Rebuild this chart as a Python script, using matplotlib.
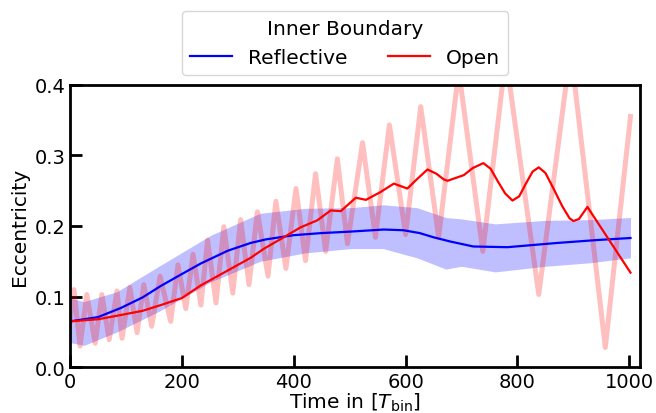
import matplotlib
matplotlib.use('Agg')
import matplotlib.pyplot as plt
import numpy as np

# smooth (running mean) curves
t_refl = [0, 50, 91, 130, 162, 200, 234, 282, 323, 350, 400, 450, 500, 561, 596, 625, 650, 680, 721, 782, 871, 940, 1002]
e_refl = [0.065, 0.071, 0.084, 0.099, 0.115, 0.132, 0.147, 0.165, 0.176, 0.181, 0.187, 0.190, 0.192, 0.195, 0.194, 0.190, 0.184, 0.178, 0.171, 0.170, 0.176, 0.180, 0.183]

t_open = [0, 50, 91, 130, 162, 200, 234, 282, 323, 347, 382, 412, 442, 466, 484, 511, 529, 555, 579, 603, 620, 639, 655, 668, 675,
          704, 720, 739, 752, 765, 778, 791, 803, 815, 827, 838, 850, 865, 880, 893, 900, 910, 925, 1002]
e_open = [0.065, 0.068, 0.074, 0.080, 0.088, 0.098, 0.116, 0.137, 0.155, 0.168, 0.184, 0.198, 0.208, 0.222, 0.221, 0.240, 0.237, 0.248, 0.260, 0.253, 0.266, 0.280, 0.274, 0.266, 0.264,
          0.272, 0.282, 0.289, 0.281, 0.263, 0.246, 0.236, 0.242, 0.260, 0.277, 0.283, 0.275, 0.252, 0.228, 0.211, 0.207, 0.210, 0.227, 0.134]

# raw eccentricity, open boundary (turning points)
t_open_raw = [0, 7, 18, 30, 45, 57, 70, 84, 93, 107, 120, 132, 146, 161, 180, 193, 207, 220, 234, 246, 261,
              275, 291, 305, 320, 335, 354, 368, 386, 404, 421, 439, 457, 478, 496, 523, 546, 571, 600,
              627, 659, 695, 738, 779, 838, 895, 957, 1002]
e_open_raw = [0.065, 0.110, 0.030, 0.103, 0.034, 0.103, 0.039, 0.108, 0.041, 0.113, 0.049, 0.117, 0.058, 0.129, 0.065, 0.145, 0.083, 0.160, 0.088, 0.180, 0.091,
              0.199, 0.105, 0.209, 0.117, 0.220, 0.129, 0.235, 0.140, 0.253, 0.151, 0.274, 0.164, 0.295, 0.175, 0.318, 0.184, 0.343, 0.188,
              0.369, 0.184, 0.420, 0.164, 0.440, 0.103, 0.450, 0.028, 0.355]

# raw eccentricity, reflective boundary (spread of the fast oscillation)
t_band = [0, 25, 84, 161, 252, 340, 421, 502, 560, 620, 672, 700, 760, 850, 930, 1002]
e_band_hi = [0.098, 0.093, 0.107, 0.144, 0.187, 0.218, 0.225, 0.226, 0.230, 0.226, 0.212, 0.210, 0.203, 0.208, 0.209, 0.212]
e_band_lo = [0.035, 0.031, 0.050, 0.080, 0.121, 0.150, 0.162, 0.168, 0.168, 0.155, 0.139, 0.143, 0.135, 0.143, 0.148, 0.155]

fig = plt.figure(figsize=(6.56, 4.14), dpi=100)
ax = fig.add_axes([70 / 656, 0.1104, 570 / 656, 0.6826])

ax.fill_between(t_band, e_band_lo, e_band_hi, color='b', alpha=0.25, lw=0)
ax.plot(t_open_raw, e_open_raw, color='r', alpha=0.25, lw=3.6, solid_joinstyle='round')
ax.plot(t_refl, e_refl, color='b', lw=1.6, label='Reflective')
ax.plot(t_open, e_open, color='r', lw=1.6, label='Open')

ax.set_xlim(0, 1019)
ax.set_ylim(0, 0.4)
ax.set_xticks([0, 200, 400, 600, 800, 1000])
ax.set_yticks([0.0, 0.1, 0.2, 0.3, 0.4])
ax.set_xlabel(r'Time in [$T_{\rm bin}$]', fontsize=14.5, labelpad=0)
ax.set_ylabel('Eccentricity', fontsize=14.5)
ax.tick_params(direction='in', length=8.5, width=2, labelsize=14)
for s in ax.spines.values():
    s.set_linewidth(2)

fig.legend(loc='upper center', bbox_to_anchor=(345 / 656, 1 - 12 / 414), borderaxespad=0, ncol=2,
           title='Inner Boundary', fontsize=14.5, title_fontsize=14.5, handlelength=2.1)

fig.savefig('out.png', dpi=100)
